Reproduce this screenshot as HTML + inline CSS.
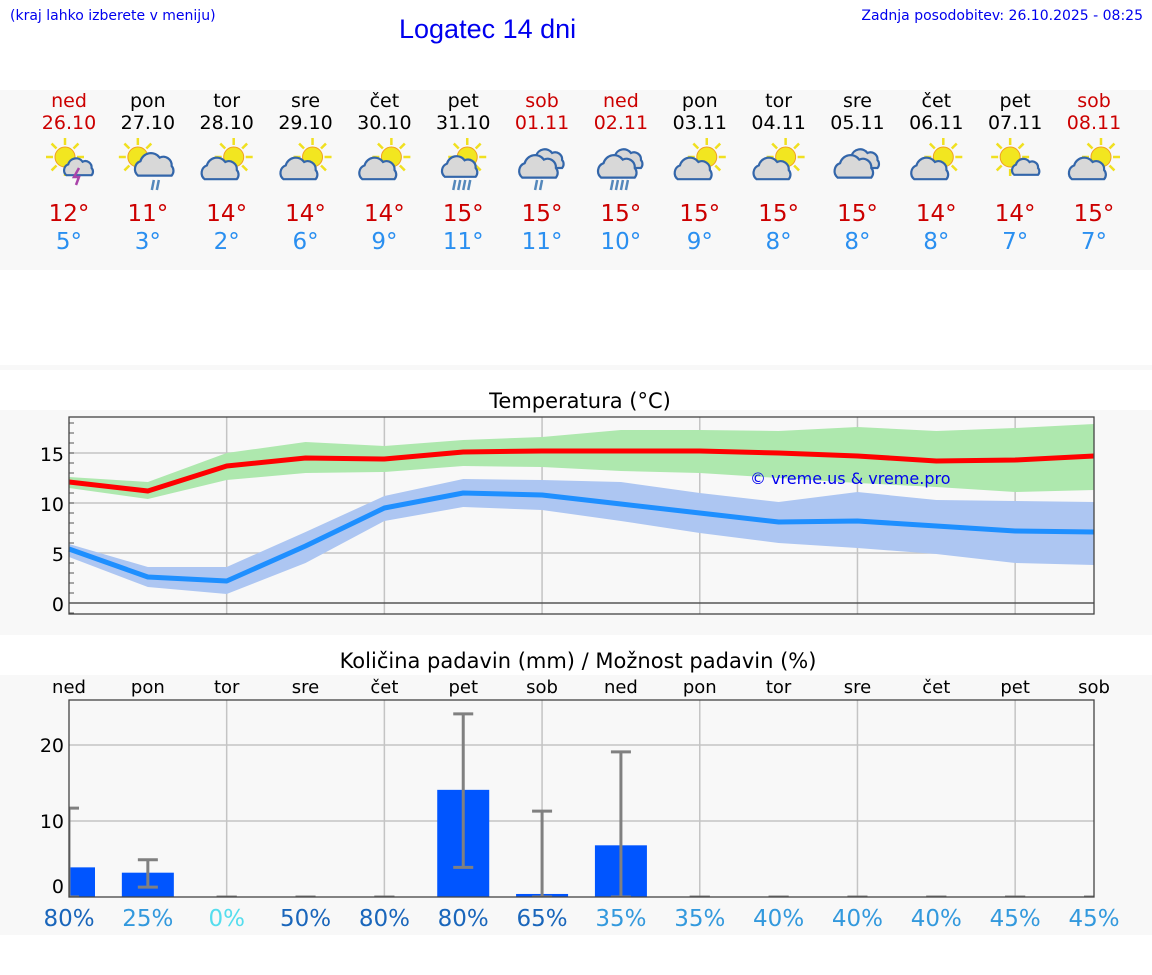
<!DOCTYPE html>
<html><head><meta charset="utf-8">
<style>
body{margin:0;width:1152px;height:975px;background:#fff;font-family:"DejaVu Sans","Liberation Sans",sans-serif;position:relative;overflow:hidden}
.a{position:absolute}
.h{font-family:"Liberation Sans",sans-serif}
</style></head><body>
<div class="a" style="left:10px;top:8px;font-size:14px;color:#0000ee">(kraj lahko izberete v meniju)</div>
<div class="a h" style="left:399px;top:14px;font-size:27px;color:#0000ee">Logatec 14 dni</div>
<div class="a" style="right:9px;top:8px;font-size:14px;color:#0000ee">Zadnja posodobitev: 26.10.2025 - 08:25</div>
<div class="a" style="left:0;top:90px;width:1152px;height:180px;background:#f8f8f8"></div>
<div class="a" style="left:0;top:365px;width:1152px;height:5px;background:#f8f8f8"></div>
<svg class="a" id="topsvg" style="left:0;top:0" width="1152" height="300"></svg>
<svg class="a" id="tc" style="left:0;top:380px" width="1152" height="260"></svg>
<svg class="a" id="pc" style="left:0;top:640px" width="1152" height="300"></svg>
<script>
const days=["ned","pon","tor","sre","čet","pet","sob","ned","pon","tor","sre","čet","pet","sob"];
const dates=["26.10","27.10","28.10","29.10","30.10","31.10","01.11","02.11","03.11","04.11","05.11","06.11","07.11","08.11"];
const icons=["storm","rain","pc","pc","pc","heavy","cloudrain","cloudheavy","pc","pc","cloud","pc","sunsmall","pc"];
const tMax=[12.1,11.2,13.7,14.5,14.4,15.1,15.2,15.2,15.2,15.0,14.7,14.2,14.3,14.7];
const tMaxHi=[12.6,12.1,15.0,16.1,15.7,16.3,16.6,17.3,17.3,17.2,17.6,17.2,17.5,17.9];
const tMaxLo=[11.5,10.4,12.3,13.0,13.1,13.7,13.6,13.2,13.0,12.5,12.0,11.6,11.1,11.3];
const tMin=[5.4,2.6,2.2,5.7,9.5,11.0,10.8,9.9,9.0,8.1,8.2,7.7,7.2,7.1];
const tMinHi=[5.9,3.6,3.6,7.1,10.7,12.4,12.3,12.1,11.0,10.1,11.1,10.3,10.2,10.1];
const tMinLo=[4.6,1.6,0.9,4.0,8.2,9.6,9.3,8.2,7.0,6.0,5.5,4.9,4.0,3.8];
const maxLabels=[12,11,14,14,14,15,15,15,15,15,15,14,14,15];
const minLabels=[5,3,2,6,9,11,11,10,9,8,8,8,7,7];
const rain=[3.9,3.2,0,0,0,14.1,0.4,6.8,0,0,0,0,0,0];
const rainHi=[11.7,4.9,0,0,0,24.1,11.3,19.1,0,0,0,0,0,0];
const rainLo=[0,1.3,0,0,0,3.9,0,0,0,0,0,0,0,0];
const chance=[80,25,0,50,80,80,65,35,35,40,40,40,45,45];
const tTicks=[0,5,10,15];
const rTicks=[0,10,20];
const NS="http://www.w3.org/2000/svg";
function mk(p,t,a,txt){const e=document.createElementNS(NS,t);for(const k in a)e.setAttribute(k,a[k]);if(txt!==undefined)e.textContent=txt;p.appendChild(e);return e;}
const X=i=>69+i*(1094-69)/13;
const red=i=>(i===0||i===6||i===7||i===13);
const topSvg=document.getElementById('topsvg');
function sun(g,cx,cy,r){for(let k=0;k<8;k++){const a=k*Math.PI/4;mk(g,'line',{x1:cx+Math.cos(a)*(r+2),y1:cy+Math.sin(a)*(r+2),x2:cx+Math.cos(a)*(r+9),y2:cy+Math.sin(a)*(r+9),stroke:'#f0e020','stroke-width':2.5});}
mk(g,'circle',{cx:cx,cy:cy,r:r,fill:'#f2e620',stroke:'#f0a020','stroke-width':1});}
function cloud(g,cx,cy,s){mk(g,'path',{d:`M${cx-14*s},${cy+8*s} a${7*s} ${7*s} 0 0 1 ${2*s},${-12*s} a${9*s} ${9*s} 0 0 1 ${16*s},${-3*s} a${7*s} ${7*s} 0 0 1 ${10*s},${7*s} a${6*s} ${6*s} 0 0 1 0,${8*s} z`,fill:'#d8d8d8',stroke:'#3366aa','stroke-width':2.2});}
function drops(g,cx,cy,n){for(let k=0;k<n;k++)mk(g,'line',{x1:cx+k*5,y1:cy,x2:cx+k*5-2,y2:cy+10,stroke:'#5588bb','stroke-width':2.5});}
days.forEach((d,i)=>{const x=X(i);const c=red(i)?'#cc0000':'#000';
 let e=mk(topSvg,'text',{x:x,y:107,'text-anchor':'middle','font-size':19,fill:c},d);
 e=mk(topSvg,'text',{x:x,y:129,'text-anchor':'middle','font-size':19,fill:c},dates[i]);
 const g=mk(topSvg,'g',{});
 const t=icons[i];
 if(t==='storm'){sun(g,x-4,157,10);cloud(g,x+10,168,0.9);mk(g,'path',{d:`M${x+10},168 l-5,9 h5 l-3,8`,stroke:'#aa44aa','stroke-width':2.5,fill:'none'});}
 else if(t==='rain'){sun(g,x-10,157,10);cloud(g,x+7,166,1.2);drops(g,x+6,180,2);}
 else if(t==='heavy'){sun(g,x+4,157,10);cloud(g,x-3,168,1.1);drops(g,x-8,180,4);}
 else if(t==='pc'){sun(g,x+7,157,10);cloud(g,x-6,170,1.15);}
 else if(t==='sunsmall'){sun(g,x-5,157,10);cloud(g,x+11,168,0.85);}
 else {cloud(g,x+6,160,1);cloud(g,x-3,168,1.2);if(t==='cloudrain')drops(g,x-5,180,2);if(t==='cloudheavy')drops(g,x-8,180,4);}
 e=mk(topSvg,'text',{x:x,y:221,'text-anchor':'middle','font-size':23,fill:'#cc0000'},maxLabels[i]+'°');
 e=mk(topSvg,'text',{x:x,y:249,'text-anchor':'middle','font-size':23,fill:'#2a8ff0'},minLabels[i]+'°');
});
const tc=document.getElementById('tc');
mk(tc,'rect',{x:0,y:30,width:1152,height:225,fill:'#f8f8f8'});
let e=mk(tc,'text',{x:580,y:28,'text-anchor':'middle','font-size':21,fill:'#000'},'Temperatura (°C)');
const TY=v=>223-v*10;
[2,4,6,8,10,12].forEach(i=>mk(tc,'line',{x1:X(i),y1:37,x2:X(i),y2:234,stroke:'#c4c4c4','stroke-width':1.5}));
tTicks.forEach(v=>{mk(tc,'line',{x1:69,y1:TY(v),x2:1094,y2:TY(v),stroke:v===0?'#555':'#c4c4c4','stroke-width':1.5});
 const t=mk(tc,'text',{x:64,y:TY(v)+8,'text-anchor':'end','font-size':19},v);});
for(let v=-1;v<=18;v++)mk(tc,'line',{x1:69,y1:TY(v),x2:74,y2:TY(v),stroke:'#555','stroke-width':1});
function band(hi,lo,col,name){let d='';hi.forEach((v,i)=>d+=(i?'L':'M')+X(i)+','+TY(v));for(let i=lo.length-1;i>=0;i--)d+='L'+X(i)+','+TY(lo[i]);const p=mk(tc,'path',{d:d+'Z',fill:col});}
function line(a,col,name){const p=mk(tc,'polyline',{points:a.map((v,i)=>X(i)+','+TY(v)).join(' '),fill:'none',stroke:col,'stroke-width':5,'stroke-linejoin':'round'});}
band(tMaxHi,tMaxLo,'#aee8ae','max-temp-band');band(tMinHi,tMinLo,'#adc6f2','min-temp-band');
line(tMax,'#ff0000','max-temp-line');line(tMin,'#1e8fff','min-temp-line');
mk(tc,'rect',{x:69,y:37,width:1025,height:197,fill:'none',stroke:'#444','stroke-width':1.3});
e=mk(tc,'text',{x:750,y:104,'font-size':16,fill:'#0000ee'},'© vreme.us & vreme.pro');
const pc=document.getElementById('pc');
mk(pc,'rect',{x:0,y:35,width:1152,height:260,fill:'#f8f8f8'});
e=mk(pc,'text',{x:578,y:28,'text-anchor':'middle','font-size':21},'Količina padavin (mm) / Možnost padavin (%)');
const PY=v=>257-v*7.6;
days.forEach((d,i)=>{const t=mk(pc,'text',{x:X(i),y:53,'text-anchor':'middle','font-size':18},d);});
[2,4,6,8,10,12].forEach(i=>mk(pc,'line',{x1:X(i),y1:60,x2:X(i),y2:257,stroke:'#c4c4c4','stroke-width':1.5}));
rTicks.forEach(v=>{if(v>0)mk(pc,'line',{x1:69,y1:PY(v),x2:1094,y2:PY(v),stroke:'#c4c4c4','stroke-width':1.5});
 const t=mk(pc,'text',{x:64,y:v===0?253:PY(v)+7,'text-anchor':'end','font-size':19},v);});
const clip=mk(pc,'clipPath',{id:'pcl'});mk(clip,'rect',{x:69,y:60,width:1025,height:197});
const pg=mk(pc,'g',{'clip-path':'url(#pcl)'});
rain.forEach((v,i)=>{if(v>0){const b=mk(pg,'rect',{x:X(i)-26,y:PY(v),width:52,height:PY(0)-PY(v),fill:'#0055ff'});}
 const g=mk(pg,'g',{stroke:'#808080','stroke-width':3});
 mk(g,'line',{x1:X(i),y1:PY(rainLo[i]),x2:X(i),y2:PY(rainHi[i])});
 mk(g,'line',{x1:X(i)-10,y1:PY(rainHi[i]),x2:X(i)+10,y2:PY(rainHi[i])});
 mk(g,'line',{x1:X(i)-10,y1:PY(rainLo[i]),x2:X(i)+10,y2:PY(rainLo[i])});});
mk(pc,'rect',{x:69,y:60,width:1025,height:197,fill:'none',stroke:'#444','stroke-width':1.3});
chance.forEach((v,i)=>{const col=v===0?'#55ddee':v>=50?'#1a66bb':'#3399dd';const t=mk(pc,'text',{x:X(i),y:286,'text-anchor':'middle','font-size':23,fill:col},v+'%');});
</script>
</body></html>
